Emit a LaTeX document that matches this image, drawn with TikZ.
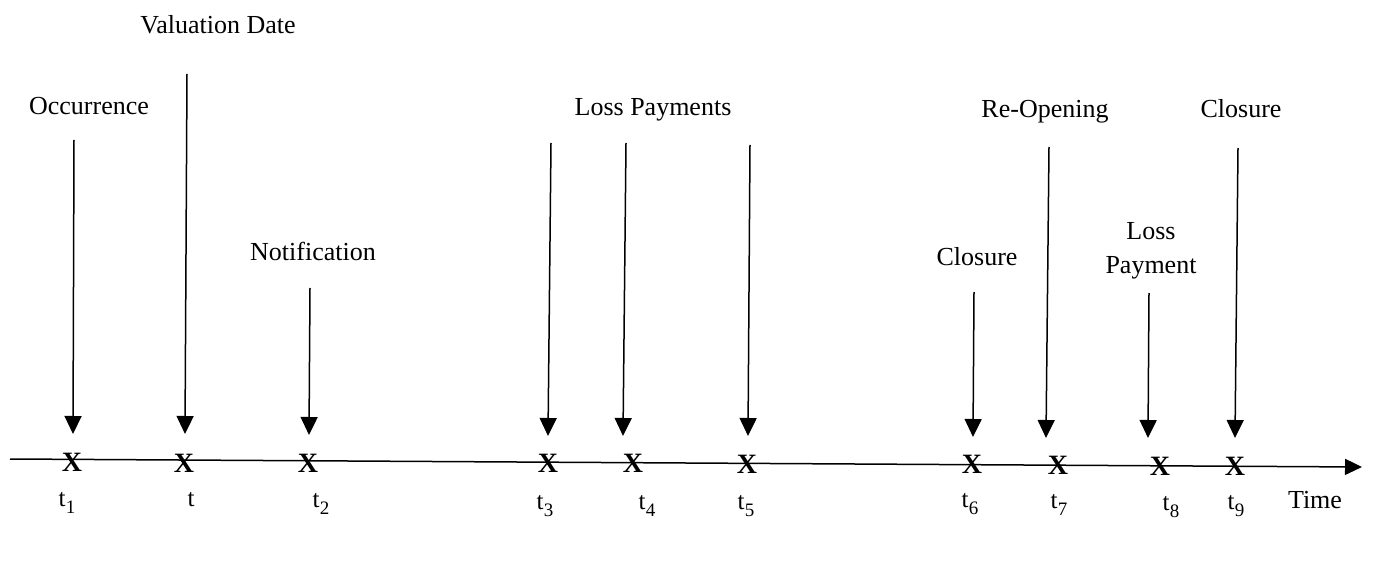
\documentclass[tikz,border=0pt]{standalone}
\usepackage{fontspec}
\setmainfont{Liberation Serif}
\usetikzlibrary{arrows.meta}
\newcommand\tsubs[1]{t\kern0.5pt\raisebox{-0.28em}{\fontsize{19}{20}\selectfont #1}}
\begin{document}
\begin{tikzpicture}[x=1pt,y=-1pt,
  lbl/.style={font=\fontsize{26}{28}\selectfont, inner sep=0pt, anchor=base, align=center},
  tlbl/.style={font=\fontsize{25}{27}\selectfont, inner sep=0pt, anchor=base},
  xmark/.style={font=\fontsize{28}{30}\selectfont\bfseries, inner sep=0pt},
  evarrow/.style={line width=1.5pt, -{Triangle[length=18pt,width=17pt]}},
  axis/.style={line width=1.5pt, -{Triangle[length=17pt,width=16pt]}}]
\useasboundingbox (0,0) rectangle (1373,569);
% timeline
\coordinate (L) at (10,459);
\coordinate (R) at (1362,467);
\draw[axis] (L) -- (R);
% X marks
\node[xmark] (x1) at (72,462) {X};
\node[xmark] (x0) at (184,463) {X};
\node[xmark] (x2) at (308,463) {X};
\node[xmark] (x3) at (548,463) {X};
\node[xmark] (x4) at (633,463) {X};
\node[xmark] (x5) at (747,464) {X};
\node[xmark] (x6) at (972,464) {X};
\node[xmark] (x7) at (1058,465) {X};
\node[xmark] (x8) at (1160,466) {X};
\node[xmark] (x9) at (1235,466) {X};
% time labels
\node[tlbl] (l1) at (67,506) {\tsubs{1}};
\node[tlbl] (l0) at (191,506) {t};
\node[tlbl] (l2) at (321,507) {\tsubs{2}};
\node[tlbl] (l3) at (545,509) {\tsubs{3}};
\node[tlbl] (l4) at (647,509) {\tsubs{4}};
\node[tlbl] (l5) at (746,509) {\tsubs{5}};
\node[tlbl] (l6) at (970,507) {\tsubs{6}};
\node[tlbl] (l7) at (1059,508) {\tsubs{7}};
\node[tlbl] (l8) at (1171,510) {\tsubs{8}};
\node[tlbl] (l9) at (1236,509) {\tsubs{9}};
\node[lbl] (time) at (1315,508) {Time};
% event labels
\node[lbl] (valdate) at (218,34) {Valuation Date};
\node[lbl] (occ) at (89,115) {Occurrence};
\node[lbl] (notif) at (313,261) {Notification};
\node[lbl] (losspay) at (653,116) {Loss Payments};
\node[lbl] (clos1) at (977,266) {Closure};
\node[lbl] (reopen) at (1045,118) {Re-Opening};
\node[lbl] (loss2) at (1151,240) {Loss};
\node[lbl] (pay2) at (1151,273) {Payment};
\node[lbl] (clos2) at (1241,118) {Closure};
% arrow ends
\coordinate (a1) at (74,140);   \coordinate (b1) at (73,434);
\coordinate (a0) at (187,74);   \coordinate (b0) at (185,434);
\coordinate (a2) at (310,288);  \coordinate (b2) at (309,435);
\coordinate (a3) at (551,143);  \coordinate (b3) at (548,436);
\coordinate (a4) at (626,143);  \coordinate (b4) at (623,436);
\coordinate (a5) at (750,145);  \coordinate (b5) at (748,436);
\coordinate (a6) at (974,292);  \coordinate (b6) at (973,437);
\coordinate (a7) at (1049,147); \coordinate (b7) at (1046,438);
\coordinate (a8) at (1149,293); \coordinate (b8) at (1148,438);
\coordinate (a9) at (1238,148); \coordinate (b9) at (1235,438);
\foreach \i in {0,...,9} {\draw[evarrow] (a\i) -- (b\i);}
\end{tikzpicture}
\end{document}
